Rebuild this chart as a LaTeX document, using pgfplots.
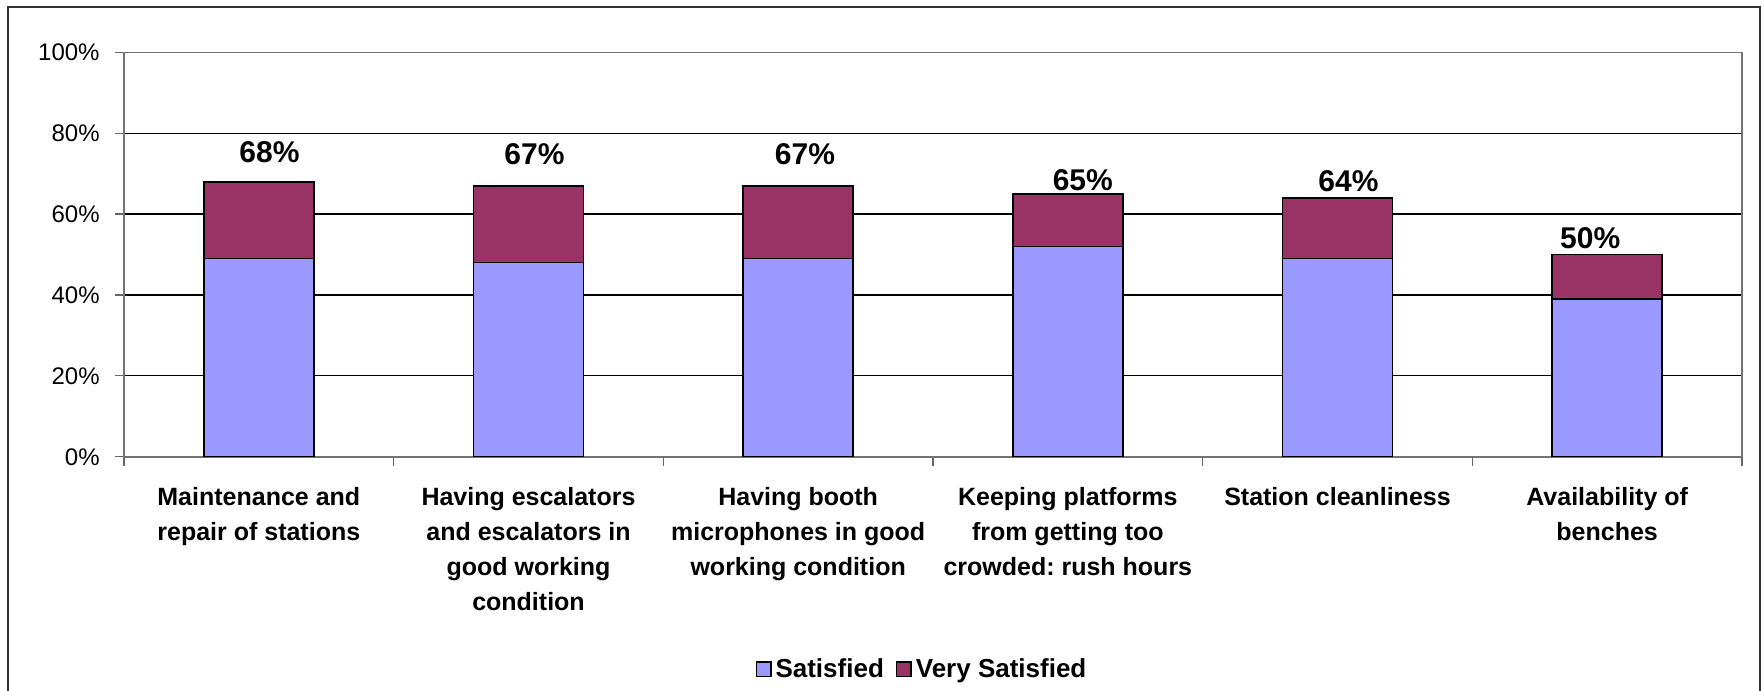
\documentclass[border=0pt]{standalone}
\usepackage{fontspec}
\setmainfont{Liberation Sans}
\usepackage{pgfplots}
\usepackage{pgfplotstable}
\pgfplotsset{compat=1.18}
\definecolor{sat}{HTML}{9999FF}
\definecolor{vsat}{HTML}{993366}

\pgfplotstableread{
x sat very total dx dy
0 49 19 68 5.3 9.7
1 48 19 67 3.0 10.5
2 49 18 67 3.4 10.5
3 52 13 65 7.5 1.5
4 49 15 64 5.5 3.3
5 39 11 50 -8.5 3.2
}\datatable

\begin{document}
\frenchspacing
\begin{tikzpicture}
\useasboundingbox (0,0) rectangle (882bp,345.5bp);
\draw[black!80, line width=1bp] (4.15bp,-20bp) -- (4.15bp,341.75bp) -- (880bp,341.75bp) -- (880bp,-20bp);
\begin{axis}[
  at={(62bp,117.1bp)}, anchor=south west,
  width=809bp, height=202.25bp, scale only axis,
  ybar stacked, bar width=0.407,
  xmin=-0.5, xmax=5.5, ymin=0, ymax=100,
  xtick={0,...,5},
  xticklabels={{Maintenance and\\repair of stations},
               {Having escalators\\and escalators in\\good working\\condition},
               {Having booth\\microphones in good\\working condition},
               {Keeping platforms\\from getting too\\crowded: rush hours},
               {Station cleanliness},
               {Availability of\\benches}},
  minor xtick={-0.5,0.5,...,5.5},
  ytick={0,20,...,100},
  yticklabel={\pgfmathprintnumber{\tick}\%},
  /pgf/number format/assume math mode=true,
  tick align=outside, tick pos=left,
  major tick length=4.5bp, minor tick length=4.5bp,
  major x tick style={draw=none},
  minor x tick style={draw=black!60, line width=0.6bp},
  major y tick style={draw=black!60, line width=0.6bp},
  ymajorgrids,
  grid style={black, line width=0.6bp},
  axis line style={black!55, line width=0.75bp},
  xticklabel style={anchor=north, inner sep=0pt, align=center,
    font=\fontsize{12.5bp}{17.5bp}\selectfont\bfseries, yshift=-10.5bp},
  yticklabel style={anchor=east, inner sep=0pt,
    font=\fontsize{12bp}{14bp}\selectfont, xshift=-7.5bp},
  legend style={at={(0.4938,-0.525)}, anchor=center, draw=none,
    legend columns=-1, font=\fontsize{13bp}{15bp}\selectfont\bfseries,
    /tikz/every even column/.append style={column sep=4bp}},
  legend image code/.code={\draw[#1, line width=0.8bp] (0bp,-3.6bp) rectangle (7.2bp,3.6bp);},
]
\addplot[fill=sat, draw=black, line width=0.8bp] table[x=x, y=sat] {\datatable};
\addlegendentry{Satisfied}
\addplot[fill=vsat, draw=black, line width=0.8bp,
  point meta=explicit,
  visualization depends on={\thisrow{dx} \as \ldx},
  visualization depends on={\thisrow{dy}+1.01125*\thisrow{very} \as \ldy},
  nodes near coords={\pgfmathprintnumber{\pgfplotspointmeta}\%},
  nodes near coords style={anchor=base, inner sep=0pt, text=black,
    font=\fontsize{15bp}{17bp}\selectfont\bfseries,
    xshift={\ldx*1bp}, yshift={\ldy*1bp}}]
  table[x=x, y=very, meta=total] {\datatable};
\addlegendentry{Very Satisfied}
\end{axis}
\end{tikzpicture}
\end{document}
